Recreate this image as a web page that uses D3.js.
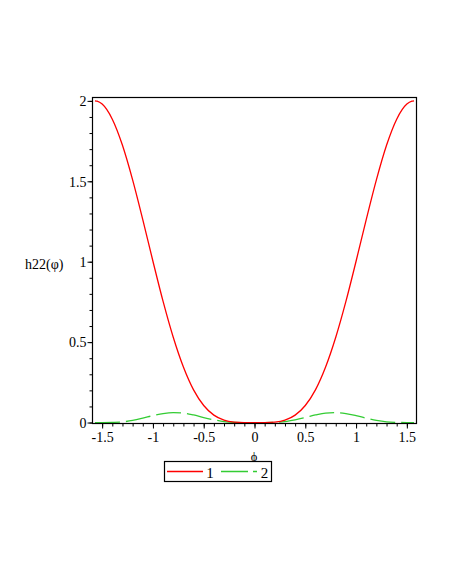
<!DOCTYPE html>
<html>
<head>
<meta charset="utf-8">
<script src="https://cdn.jsdelivr.net/npm/d3@7"></script>
<style>
  html, body { margin: 0; padding: 0; background: #fff; }
  svg { display: block; }
  text { font-family: "Liberation Serif", "DejaVu Serif", serif; fill: #000; }
</style>
</head>
<body>
<svg id="chart" width="450" height="582"></svg>
<script>
// ---- data ----
const phi = [-1.5708, -1.55, -1.5, -1.4, -1.3, -1.2, -1.1, -1.0, -0.9, -0.8, -0.7, -0.6, -0.5, -0.4, -0.3, -0.2, -0.1,
             0, 0.1, 0.2, 0.3, 0.4, 0.5, 0.6, 0.7, 0.8, 0.9, 1.0, 1.1, 1.2, 1.3, 1.4, 1.5, 1.55, 1.5708];
const series1 = [2.000, 1.998, 1.980, 1.886, 1.724, 1.509, 1.262, 1.003, 0.753, 0.530, 0.345, 0.203, 0.106, 0.046, 0.015, 0.003, 0.000,
                 0.000, 0.000, 0.003, 0.015, 0.046, 0.106, 0.203, 0.345, 0.530, 0.753, 1.003, 1.262, 1.509, 1.724, 1.886, 1.980, 1.998, 2.000];
const series2 = [0.000, 0.000, 0.000, 0.001, 0.004, 0.013, 0.027, 0.043, 0.056, 0.062, 0.059, 0.047, 0.031, 0.017, 0.006, 0.001, 0.000,
                 0.000, 0.000, 0.001, 0.006, 0.017, 0.031, 0.047, 0.059, 0.062, 0.056, 0.043, 0.027, 0.013, 0.004, 0.001, 0.000, 0.000, 0.000];
const xMajorTicks = [-1.5, -1, -0.5, 0, 0.5, 1, 1.5];
const yMajorTicks = [0, 0.5, 1, 1.5, 2];
const xMinorTicks = d3.range(-15, 16).map(i => i / 10);
const yMinorTicks = d3.range(0, 21).map(i => i / 10);
const legendLabels = ["1", "2"];
const xTitle = "\u03D5";
const yTitle = "h22(\u03C6)";

// ---- layout ----
const svg = d3.select("#chart");
const mLeft = 92.5, mRight = 416.5, mTop = 97.5, mBottom = 423.5;
const x = d3.scaleLinear().domain([-1.595, 1.595]).range([mLeft, mRight]);
const y = d3.scaleLinear().domain([-0.006, 2.021]).range([mBottom, mTop]);
const colors = ["#ff0000", "#33cc33"];
const fmt = d => String(d);
const serif = "Liberation Serif, DejaVu Serif, serif";

// minor ticks
svg.append("g").attr("transform", `translate(0,${mBottom})`)
  .call(d3.axisBottom(x).tickValues(xMinorTicks).tickSize(3).tickFormat(""))
  .call(g => g.select(".domain").remove());
svg.append("g").attr("transform", `translate(${mLeft},0)`)
  .call(d3.axisLeft(y).tickValues(yMinorTicks).tickSize(3).tickFormat(""))
  .call(g => g.select(".domain").remove());

// major ticks with labels
const xAxis = svg.append("g").attr("transform", `translate(0,${mBottom})`)
  .call(d3.axisBottom(x).tickValues(xMajorTicks).tickSize(5).tickFormat(fmt))
  .call(g => g.select(".domain").remove())
  .attr("font-family", serif).attr("font-size", 14);
xAxis.selectAll("text").attr("y", 18.5).attr("dy", null);

const yAxis = svg.append("g").attr("transform", `translate(${mLeft},0)`)
  .call(d3.axisLeft(y).tickValues(yMajorTicks).tickSize(5).tickFormat(fmt))
  .call(g => g.select(".domain").remove())
  .attr("font-family", serif).attr("font-size", 14);
yAxis.selectAll("text").attr("x", -6).attr("dy", "0.34em");

svg.selectAll(".tick line").attr("stroke", "#000");

// curves
const line = d3.line().x(d => x(d[0])).y(d => y(d[1])).curve(d3.curveMonotoneX);
const data1 = phi.map((p, i) => [p, series1[i]]);
const data2 = phi.map((p, i) => [p, series2[i]]);

svg.append("path").datum(data2).attr("d", line)
  .attr("fill", "none").attr("stroke", colors[1]).attr("stroke-width", 1.3)
  .attr("stroke-dasharray", "25,6");
svg.append("path").datum(data1).attr("d", line)
  .attr("fill", "none").attr("stroke", colors[0]).attr("stroke-width", 1.3);

// frame
svg.append("rect").attr("x", mLeft).attr("y", mTop)
  .attr("width", mRight - mLeft).attr("height", mBottom - mTop)
  .attr("fill", "none").attr("stroke", "#000").attr("stroke-width", 1.2);

// titles
svg.append("text").attr("x", 254).attr("y", 461).attr("text-anchor", "middle")
  .attr("font-family", "DejaVu Serif, serif").attr("font-size", 12.5)
  .attr("fill", "#000").text(xTitle);
svg.append("text").attr("x", 25).attr("y", 268.5)
  .attr("font-family", serif).attr("font-size", 14).text(yTitle);

// legend
const lg = svg.append("g");
lg.append("rect").attr("x", 164.5).attr("y", 461.5).attr("width", 107).attr("height", 20)
  .attr("fill", "#fff").attr("stroke", "#000").attr("stroke-width", 1.2);
const legendItems = [
  { x1: 167, x2: 203, tx: 210, dash: null },
  { x1: 221, x2: 257, tx: 264.5, dash: "27,5" }
];
legendItems.forEach((it, i) => {
  lg.append("line").attr("x1", it.x1).attr("x2", it.x2).attr("y1", 471.5).attr("y2", 471.5)
    .attr("stroke", colors[i]).attr("stroke-width", 1.3)
    .attr("stroke-dasharray", it.dash);
  lg.append("text").attr("x", it.tx).attr("y", 477.5).attr("text-anchor", "middle")
    .attr("font-family", serif).attr("font-size", 15).text(legendLabels[i]);
});
</script>
</body>
</html>
